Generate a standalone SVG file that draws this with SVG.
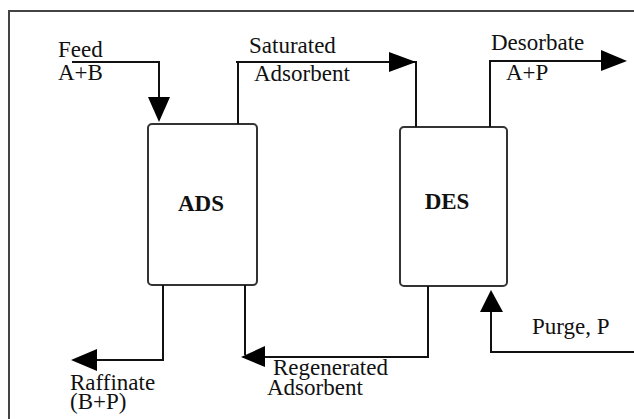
<svg xmlns="http://www.w3.org/2000/svg" width="634" height="419" viewBox="0 0 634 419">
<style>
text{font-family:'Liberation Serif','Times New Roman',serif;font-size:23px;fill:#111}
.b{font-weight:bold;text-anchor:middle}
.ln{fill:none;stroke:#111;stroke-width:2}
.ah{fill:#000;stroke:none}
.box{fill:#fff;stroke:#333;stroke-width:2}
.frame{fill:none;stroke:#444;stroke-width:2}
</style>
<rect width="634" height="419" fill="#fff"/>
<path class="frame" d="M9,419 V11 H634"/>
<g id="ADS">
<rect class="box" x="148" y="124" width="109" height="161" rx="4"/>
<text class="b" x="201" y="211">ADS</text>
</g>
<g id="DES">
<rect class="box" x="400" y="127" width="107" height="159" rx="4"/>
<text class="b" x="447" y="209">DES</text>
</g>
<g id="connectors">
<polyline class="ln" points="72,62 159,62 159,100"/>
<polygon class="ah" points="148,97 170,97 159,122"/>
<polyline class="ln" points="238,124 238,62 236,62 416,62 416,127"/>
<polygon class="ah" points="389,52 389,72 416,62"/>
<polyline class="ln" points="490,127 490,61 605,61"/>
<polygon class="ah" points="601,50 601,71 627,61"/>
<polyline class="ln" points="163,285 163,360 95,360"/>
<polygon class="ah" points="97,349 97,371 71,360"/>
<polyline class="ln" points="428,286 428,357 262,357"/>
<polyline class="ln" points="245,285 245,355"/>
<polygon class="ah" points="265,346 265,367 241,357"/>
<polyline class="ln" points="634,352 491,352 491,310"/>
<polygon class="ah" points="480,312 503,312 491,290"/>
</g>
<g id="labels">
<text x="58" y="57">Feed</text>
<text x="58" y="80">A+B</text>
<text x="249" y="53">Saturated</text>
<text x="254" y="81">Adsorbent</text>
<text x="491" y="50">Desorbate</text>
<text x="506" y="80">A+P</text>
<text x="70" y="390">Raffinate</text>
<text x="70" y="409">(B+P)</text>
<text x="273" y="375">Regenerated</text>
<text x="267" y="395">Adsorbent</text>
<text x="532" y="334">Purge, P</text>
</g>
</svg>
